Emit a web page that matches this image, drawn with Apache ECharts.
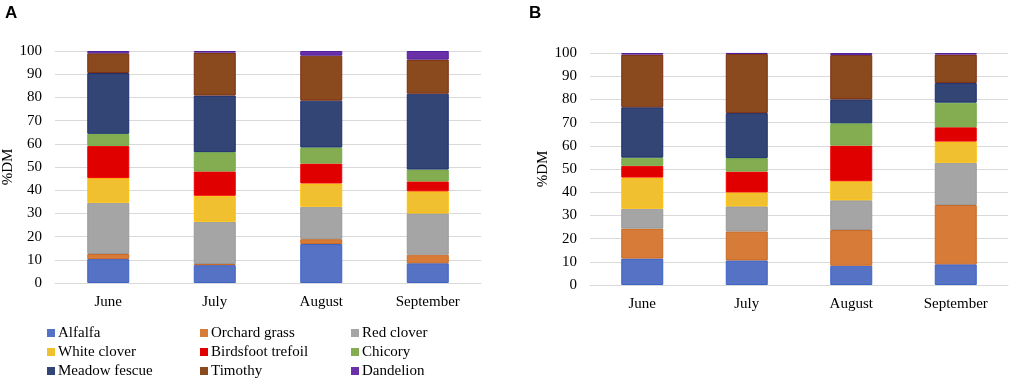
<!DOCTYPE html>
<html><head><meta charset="utf-8">
<script src="https://cdn.jsdelivr.net/npm/echarts@6/dist/echarts.min.js"></script>
<style>html,body{margin:0;padding:0;background:#fff}#c{width:1021px;height:382px}</style>
</head><body><div id="c"></div>
<script>
const months = ['June', 'July', 'August', 'September'];
const species = ['Alfalfa', 'Orchard grass', 'Red clover', 'White clover', 'Birdsfoot trefoil', 'Chicory', 'Meadow fescue', 'Timothy', 'Dandelion'];
const yTicks = [0, 10, 20, 30, 40, 50, 60, 70, 80, 90, 100];
// Panel A values (%DM) per species, June..September
const alfalfaA = [10.3, 7.7, 16.8, 8.5];
const orchardA = [2.2, 0.5, 2.1, 3.7];
const redCloverA = [22.1, 18.2, 14.0, 17.8];
const whiteCloverA = [10.6, 11.2, 10.0, 9.5];
const birdsfootA = [13.9, 10.5, 8.6, 4.3];
const chicoryA = [5.2, 8.3, 6.9, 5.1];
const meadowA = [26.2, 24.4, 20.2, 32.7];
const timothyA = [8.5, 18.5, 19.4, 14.7];
const dandelionA = [1.0, 0.7, 2.0, 3.7];
// Panel B values
const alfalfaB = [11.4, 10.6, 8.3, 8.9];
const orchardB = [12.9, 12.5, 15.4, 25.6];
const redCloverB = [8.6, 10.8, 12.8, 18.2];
const whiteCloverB = [13.4, 6.0, 8.2, 9.1];
const birdsfootB = [5.1, 9.0, 15.4, 6.2];
const chicoryB = [3.5, 5.8, 9.6, 10.6];
const meadowB = [21.7, 19.4, 10.3, 8.5];
const timothyB = [22.7, 25.5, 19.1, 12.2];
const dandelionB = [0.7, 0.4, 0.9, 0.7];

const panelA = [alfalfaA, orchardA, redCloverA, whiteCloverA, birdsfootA, chicoryA, meadowA, timothyA, dandelionA];
const panelB = [alfalfaB, orchardB, redCloverB, whiteCloverB, birdsfootB, chicoryB, meadowB, timothyB, dandelionB];

const fills = ['#5572c4', '#d77b38', '#a5a5a5', '#f0c030', '#e00000', '#84ac50', '#334574', '#8a4a1d', '#6a30a8'];
const borders = ['#3d63c8', '#c96a25', '#999999', '#ffc000', '#f00000', '#70ad47', '#1f2f6f', '#7a2e10', '#5020a0'];

const serif = 'Liberation Serif';
const chart = echarts.init(document.getElementById('c'), null, {renderer: 'canvas'});

function xAxis(gi) {
  return {
    type: 'category', gridIndex: gi, data: months,
    axisLine: {lineStyle: {color: '#d9d9d9', width: 1}},
    axisTick: {show: false},
    axisLabel: {color: '#000', fontFamily: serif, fontSize: 15, margin: 12}
  };
}
function yAxis(gi) {
  return {
    type: 'value', gridIndex: gi, min: yTicks[0], max: yTicks[yTicks.length - 1], interval: 10,
    name: '%DM', nameLocation: 'middle', nameGap: 38, nameRotate: 90,
    nameTextStyle: {color: '#000', fontFamily: serif, fontSize: 15},
    axisLine: {show: false}, axisTick: {show: false},
    axisLabel: {color: '#000', fontFamily: serif, fontSize: 15, margin: 13},
    splitLine: {lineStyle: {color: '#d9d9d9', width: 1}}
  };
}
const series = [];
[panelA, panelB].forEach((panel, gi) => {
  panel.forEach((vals, i) => {
    series.push({
      name: species[i], type: 'bar', stack: 'p' + gi,
      xAxisIndex: gi, yAxisIndex: gi, data: vals, barWidth: 42,
      itemStyle: {color: fills[i], borderColor: borders[i], borderWidth: 1},
      emphasis: {disabled: true}
    });
  });
});
function legendCol(names, left) {
  return {
    orient: 'vertical', left: left, top: 320, height: 70, data: names,
    itemWidth: 8, itemHeight: 8, itemGap: 3, icon: 'rect', selectedMode: false,
    itemStyle: {borderWidth: 0},
    textStyle: {color: '#000', fontFamily: serif, fontSize: 15, lineHeight: 16, padding: [0, 0, 0, -2]}
  };
}
chart.setOption({
  animation: false,
  grid: [
    {left: 55, right: 540, top: 51, bottom: 99, outerBoundsMode: 'none'},
    {left: 590, right: 13, top: 53, bottom: 97, outerBoundsMode: 'none'}
  ],
  xAxis: [xAxis(0), xAxis(1)],
  yAxis: [yAxis(0), yAxis(1)],
  legend: [
    legendCol([species[0], species[3], species[6]], 42),
    legendCol([species[1], species[4], species[7]], 195),
    legendCol([species[2], species[5], species[8]], 346)
  ],
  graphic: [
    {type: 'text', left: 5, top: 5, style: {text: 'A', font: 'bold 17px Liberation Sans', fill: '#000'}},
    {type: 'text', left: 529, top: 5, style: {text: 'B', font: 'bold 17px Liberation Sans', fill: '#000'}}
  ],
  series: series
});
</script></body></html>
